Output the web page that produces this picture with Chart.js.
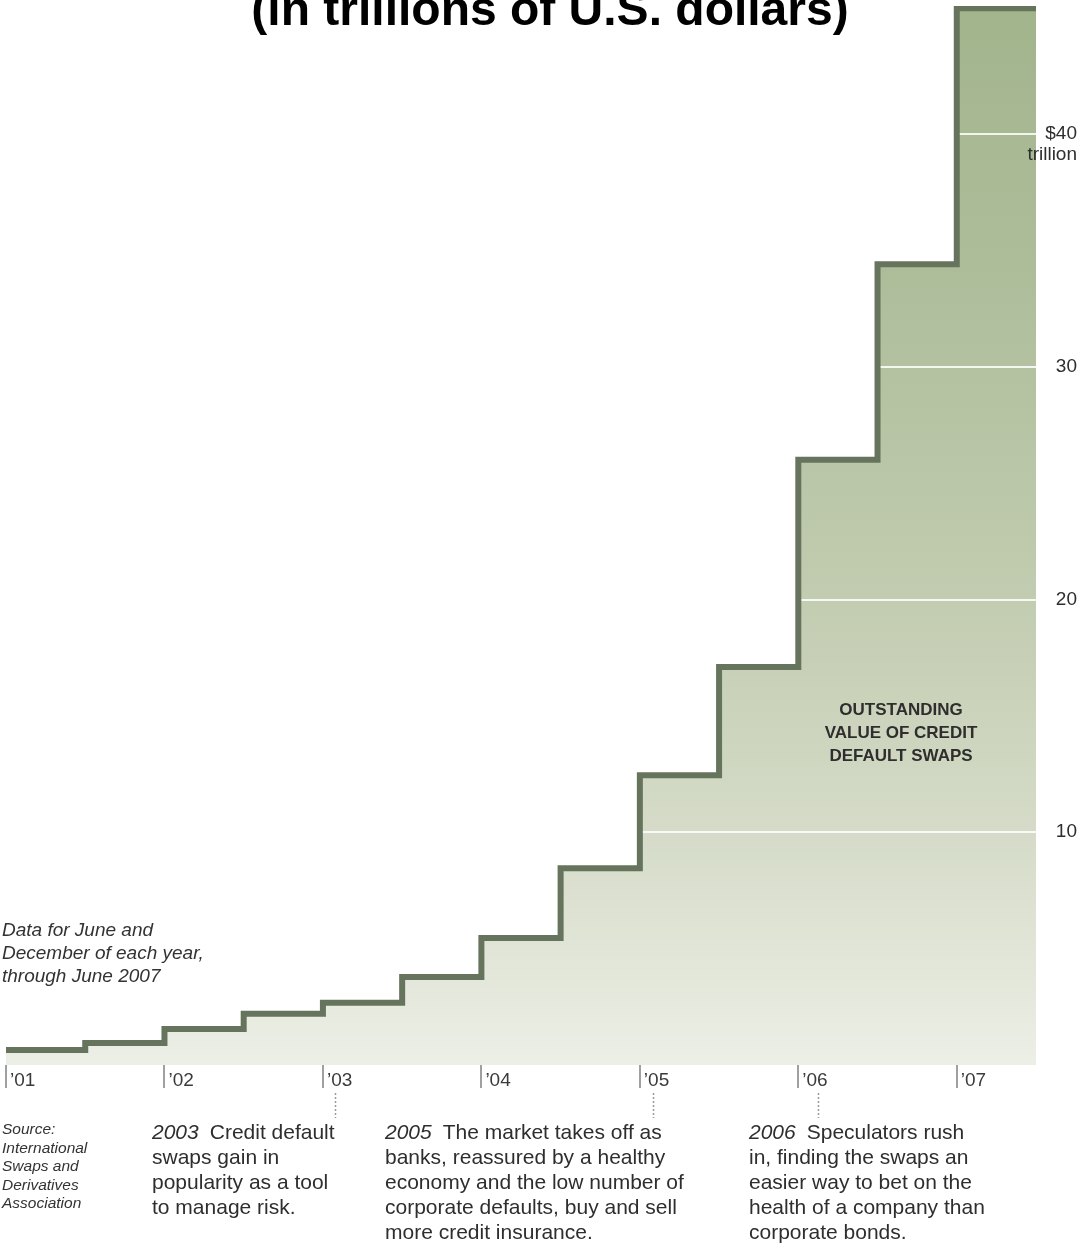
<!DOCTYPE html>
<html>
<head>
<meta charset="utf-8">
<script src="https://cdn.jsdelivr.net/npm/chart.js@4/dist/chart.umd.min.js"></script>
<style>
  html, body { margin: 0; padding: 0; background: #ffffff; }
  #c { display: block; }
</style>
</head>
<body>
<canvas id="c" width="1080" height="1246"></canvas>
<script>
// Outstanding value of credit default swaps, trillions of U.S. dollars,
// half-yearly readings (June and December), June 2001 through June 2007.
const periods = ['Jun 2001', 'Dec 2001', 'Jun 2002', 'Dec 2002', 'Jun 2003', 'Dec 2003',
                 'Jun 2004', 'Dec 2004', 'Jun 2005', 'Dec 2005', 'Jun 2006', 'Dec 2006', 'Jun 2007'];
const periodStart = [2001, 2001.5, 2002, 2002.5, 2003, 2003.5, 2004, 2004.5, 2005, 2005.5, 2006, 2006.5, 2007];
const cdsValues = [0.64, 0.95, 1.55, 2.2, 2.67, 3.78, 5.46, 8.45, 12.45, 17.1, 26.0, 34.4, 45.4];
const periodEnd = 2007.5;

// Axis ticks
const yearTicks = [2001, 2002, 2003, 2004, 2005, 2006, 2007];
const yearLabels = ['\u201901', '\u201902', '\u201903', '\u201904', '\u201905', '\u201906', '\u201907'];
const valueTicks = [10, 20, 30, 40];
const valueLabels = ['10', '20', '30', ['', '$40', 'trillion']];

// Text blocks
const titleText = '(in trillions of U.S. dollars)';
const dataNote = ['Data for June and', 'December of each year,', 'through June 2007'];
const seriesName = ['OUTSTANDING', 'VALUE OF CREDIT', 'DEFAULT SWAPS'];
const sourceNote = ['Source:', 'International', 'Swaps and', 'Derivatives', 'Association'];
const events = [
  { year: '2003', lines: ['Credit default', 'swaps gain in', 'popularity as a tool', 'to manage risk.'] },
  { year: '2005', lines: ['The market takes off as', 'banks, reassured by a healthy', 'economy and the low number of', 'corporate defaults, buy and sell', 'more credit insurance.'] },
  { year: '2006', lines: ['Speculators rush', 'in, finding the swaps an', 'easier way to bet on the', 'health of a company than', 'corporate bonds.'] }
];
const eventYears = [2003, 2005, 2006];

const FONT = "'Liberation Sans', Arial, Helvetica, sans-serif";

// step points: each reading holds until the next one
const stepPoints = periodStart.map((x, i) => ({ x: x, y: cdsValues[i] }));
stepPoints.push({ x: periodEnd, y: cdsValues[cdsValues.length - 1] });

function areaGradient(context) {
  const chart = context.chart;
  const a = chart.chartArea;
  if (!a) return 'rgba(0,0,0,0)';
  const g = chart.ctx.createLinearGradient(0, a.top, 0, a.bottom);
  g.addColorStop(0, 'rgb(162,180,140)');
  g.addColorStop(0.25, 'rgb(173,189,154)');
  g.addColorStop(0.56, 'rgb(194,204,176)');
  g.addColorStop(0.78, 'rgb(213,219,200)');
  g.addColorStop(1, 'rgb(236,239,230)');
  return g;
}

// white value rules drawn over the filled area, beneath the step line
const valueRules = {
  id: 'valueRules',
  beforeDatasetDraw(chart) {
    const { ctx, chartArea, scales } = chart;
    ctx.save();
    ctx.strokeStyle = 'rgba(255,255,255,0.85)';
    ctx.lineWidth = 2;
    scales.y.ticks.forEach(t => {
      const y = Math.round(scales.y.getPixelForValue(t.value));
      ctx.beginPath();
      ctx.moveTo(chartArea.left, y);
      ctx.lineTo(chartArea.right, y);
      ctx.stroke();
    });
    ctx.restore();
  }
};

function drawBlock(ctx, lines, x, y0, lh) {
  lines.forEach((s, i) => ctx.fillText(s, x, y0 + i * lh));
}

const notes = {
  id: 'notes',
  afterDraw(chart) {
    const { ctx, scales } = chart;
    ctx.save();
    ctx.textBaseline = 'alphabetic';

    // title
    ctx.fillStyle = '#000000';
    ctx.font = 'bold 48px ' + FONT;
    ctx.textAlign = 'center';
    ctx.fillText(titleText, 550, 25);

    // series name inside the area
    ctx.fillStyle = '#2e2e2e';
    ctx.font = 'bold 17px ' + FONT;
    drawBlock(ctx, seriesName, 901, 715, 23);

    ctx.textAlign = 'left';
    // data note
    ctx.fillStyle = '#333333';
    ctx.font = 'italic 19px ' + FONT;
    drawBlock(ctx, dataNote, 2, 936, 23);

    // source
    ctx.fillStyle = '#333333';
    ctx.font = 'italic 15.5px ' + FONT;
    drawBlock(ctx, sourceNote, 2, 1134, 18.5);

    // leaders from year labels down to the notes
    const leaderShift = [12, 13, 20];
    ctx.strokeStyle = '#9a9a9a';
    ctx.lineWidth = 1.5;
    ctx.setLineDash([2, 2]);
    eventYears.forEach((yr, i) => {
      const x = Math.round(scales.x.getPixelForValue(yr)) + leaderShift[i] + 0.5;
      ctx.beginPath();
      ctx.moveTo(x, 1093);
      ctx.lineTo(x, 1118);
      ctx.stroke();
    });
    ctx.setLineDash([]);

    // event notes
    const noteX = [152, 385, 749];
    ctx.fillStyle = '#2e2e2e';
    events.forEach((ev, i) => {
      const x = noteX[i];
      const y0 = 1139;
      ctx.font = 'italic 21px ' + FONT;
      ctx.fillText(ev.year, x, y0);
      const w = ctx.measureText(ev.year).width;
      ctx.font = '21px ' + FONT;
      ctx.fillText(ev.lines[0], x + w + 11, y0);
      drawBlock(ctx, ev.lines.slice(1), x, y0 + 25, 25);
    });
    ctx.restore();
  }
};

new Chart(document.getElementById('c'), {
  type: 'line',
  data: {
    datasets: [{
      label: 'Outstanding value of credit default swaps',
      data: stepPoints,
      stepped: true,
      borderColor: '#66745d',
      borderWidth: 6,
      borderCapStyle: 'butt',
      borderJoinStyle: 'miter',
      pointRadius: 0,
      fill: 'origin',
      backgroundColor: areaGradient
    }]
  },
  options: {
    responsive: false,
    animation: false,
    devicePixelRatio: 1,
    layout: { padding: { left: 6, top: 6, right: 0, bottom: 151 } },
    plugins: {
      legend: { display: false },
      tooltip: { enabled: false },
      title: { display: false }
    },
    scales: {
      x: {
        type: 'linear',
        min: 2001,
        max: periodEnd,
        afterBuildTicks: ax => { ax.ticks = yearTicks.map(v => ({ value: v })); },
        afterFit: ax => { ax.height = 30; ax.paddingLeft = 0; ax.paddingRight = 0; },
        grid: { drawOnChartArea: false, drawTicks: true, tickLength: 23, color: '#a0a0a0', lineWidth: 2 },
        border: { display: false },
        ticks: {
          callback: v => yearLabels[yearTicks.indexOf(v)],
          align: 'start',
          labelOffset: 4,
          padding: -19,
          autoSkip: false,
          maxRotation: 0,
          color: '#3a3a3a',
          font: { family: FONT, size: 19 }
        }
      },
      y: {
        type: 'linear',
        position: 'right',
        min: 0,
        max: 45.5,
        afterBuildTicks: ax => { ax.ticks = valueTicks.map(v => ({ value: v })); },
        afterFit: ax => { ax.width = 44; ax.paddingTop = 0; ax.paddingBottom = 0; },
        grid: { display: false, drawTicks: false },
        border: { display: false },
        ticks: {
          z: 1,
          callback: v => valueLabels[valueTicks.indexOf(v)],
          mirror: true,
          crossAlign: 'near',
          padding: 41,
          color: '#2e2e2e',
          font: { family: FONT, size: 19, lineHeight: 1.1 }
        }
      }
    }
  },
  plugins: [valueRules, notes]
});
</script>
</body>
</html>
